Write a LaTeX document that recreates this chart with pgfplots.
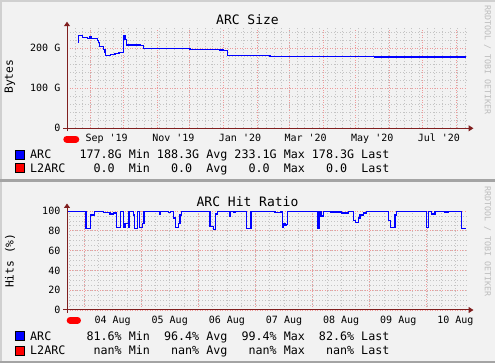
\documentclass[border=0pt]{standalone}
\usepackage{fontspec}
\setmainfont{DejaVu Sans Mono}
\usepackage{pgfplots}
\pgfplotsset{compat=1.18}
\usetikzlibrary{arrows.meta}
\definecolor{bgc}{HTML}{F2F2F2}
\definecolor{shadea}{HTML}{D0D0D0}
\definecolor{shadeb}{HTML}{A4A4A4}
\definecolor{mgrid}{HTML}{EE9A9A}
\definecolor{mingrid}{HTML}{C4C4C4}
\definecolor{arrowc}{HTML}{801F1F}
\definecolor{arcblue}{HTML}{0000FF}
\definecolor{l2red}{HTML}{FF0000}
\definecolor{wm}{HTML}{BDBDBD}
\newcommand\tickfont{\fontsize{10}{12}\selectfont}
\newcommand\legfont{\fontsize{11.7}{14}\selectfont}
\newcommand\titlefont{\fontsize{13}{15}\selectfont}
\newcommand\labfont{\fontsize{11.3}{13}\selectfont}
\newcommand\wmfont{\fontsize{8.3}{10}\selectfont}
\pgfplotsset{rrd/.style={
  axis on top=false,
  scale only axis, width=400pt, anchor=south west, clip=false,
  axis line style={draw=none},
  tick pos=left, major tick length=0pt, minor tick length=0pt,
  grid=both,
  major grid style={color=mgrid, line width=0.8pt, dash pattern=on 1pt off 1.5pt},
  minor grid style={color=mingrid, line width=0.7pt, dash pattern=on 1pt off 2pt},
  xticklabels={},
  ticklabel style={font=\tickfont, inner sep=0pt},
  yticklabel style={anchor=east, xshift=-6.5pt},
  xticklabel style={anchor=north, yshift=-5.5pt},
  extra x tick style={grid=none, major tick length=0pt},
}}
\begin{document}
\begin{tikzpicture}
\useasboundingbox (0,0) rectangle (495pt,363pt);
\fill[bgc] (0,0) rectangle (495pt,363pt);
\fill[shadea] (0,361pt) rectangle (495pt,363pt);
\fill[shadea] (0,0) rectangle (2pt,363pt);
\fill[shadeb] (0,180.5pt) rectangle (495pt,183.5pt);
\fill[shadeb] (0,0) rectangle (495pt,1.5pt);

% ---------- top: ARC Size ----------
\begin{axis}[rrd, at={(67pt,234.7pt)}, height=100pt,
  xmin=0.68, xmax=366.68, ymin=0, ymax=250,
  xtick={22,52,83,113,144,175,204,235,265,296,326,357},
  minor xtick={1,8,...,365},
  extra x ticks={37,98,159,219,280,341},
  extra x tick labels={Sep \textquotesingle19,Nov \textquotesingle19,Jan \textquotesingle20,Mar \textquotesingle20,May \textquotesingle20,Jul \textquotesingle20},
  ytick={0,100,200}, yticklabels={0,100 G,200 G},
  minor ytick={20,40,60,80,120,140,160,180,220,240},
]
\addplot[arcblue, line width=1.2pt, const plot] coordinates {
(10.5,215) (11.0,232) (14.7,227) (19.3,225) (21.7,230) (22.6,225) (28.4,219)
(29.3,214) (30.2,204) (33.9,197) (35.4,190) (36.1,181) (40.7,184) (44.6,187)
(48.3,190) (52.2,232) (53.8,221) (55.3,208) (67.5,206) (70.5,199) (113.2,197.5)
(140.7,195) (142.5,197) (143.5,195) (147.7,182.5) (186.4,180) (282.5,178) (365.5,178)};
\addplot[l2red, line width=7pt, line cap=round] coordinates {(0.5,-27.2) (8.7,-27.2)};
\draw[arrowc, line width=1pt, -{Triangle[length=5pt,width=6pt]}]
  ([xshift=-4pt]rel axis cs:0,0) -- ([xshift=6.5pt]rel axis cs:1,0);
\draw[arrowc, line width=1pt, -{Triangle[length=4.5pt,width=6pt]}]
  ([yshift=-3pt]rel axis cs:0,0) -- ([yshift=6.6pt]rel axis cs:0,1);
\end{axis}

% ---------- bottom: ARC Hit Ratio ----------
\begin{axis}[rrd, at={(67pt,53pt)}, height=99pt,
  xmin=0.7025, xmax=7.7025, ymin=0, ymax=100,
  xtick={1,2,3,4,5,6,7},
  minor xtick={0.75,1,...,7.5},
  extra x ticks={1.5,2.5,3.5,4.5,5.5,6.5,7.5},
  extra x tick labels={04 Aug,05 Aug,06 Aug,07 Aug,08 Aug,09 Aug,10 Aug},
  ytick={0,20,40,60,80,100}, yticklabels={0,20,40,60,80,100},
  minor ytick={5,10,...,95},
]
\addplot[arcblue, line width=1.2pt, const plot] coordinates {
(0.7025,99.5) (1.035,82) (1.117,96) (1.181,99.5) (1.338,98.5) (1.455,97) (1.513,98)
(1.572,83) (1.642,99.5) (1.689,83) (1.718,87.5) (1.776,83) (1.788,99.5) (1.864,96)
(1.881,82) (1.934,99.5) (1.969,83) (2.021,87) (2.050,99.5) (2.319,97) (2.342,99.5)
(2.476,98.5) (2.517,99.5) (2.564,93) (2.605,83) (2.651,87) (2.680,96) (2.710,99.5)
(3.205,84) (3.264,81.6) (3.305,97) (3.334,99.5) (3.544,95) (3.567,99.5) (3.614,98.5)
(3.643,99.5) (3.847,82) (3.923,99.5) (4.343,98.5) (4.448,99.5) (4.471,83) (4.489,87.5)
(4.518,85.5) (4.547,86) (4.565,99.5) (5.090,82) (5.113,99.5) (5.148,95) (5.189,99.5)
(5.323,99) (5.510,98) (5.627,99.5) (5.714,90) (5.755,88) (5.802,93) (5.831,96)
(5.889,98) (5.948,99.5) (6.327,90) (6.368,83) (6.444,96) (6.473,99.5) (6.998,83)
(7.027,99.5) (7.085,97) (7.144,99.5) (7.319,99) (7.377,99.5) (7.610,82.6) (7.680,82.6)};
\addplot[l2red, line width=7pt, line cap=round] coordinates {(0.758,-10.4) (0.886,-10.4)};
\draw[arrowc, line width=1pt, -{Triangle[length=5pt,width=6pt]}]
  ([xshift=-4pt]rel axis cs:0,0) -- ([xshift=6.5pt]rel axis cs:1,0);
\draw[arrowc, line width=1pt, -{Triangle[length=4.5pt,width=6pt]}]
  ([yshift=-3pt]rel axis cs:0,0) -- ([yshift=7.5pt]rel axis cs:0,1);
\end{axis}

% titles, labels, watermark
\node[font=\titlefont, inner sep=0pt] at (247.5pt,343pt) {ARC Size};
\node[font=\titlefont, inner sep=0pt] at (247.5pt,161.3pt) {ARC Hit Ratio};
\node[font=\labfont, inner sep=0pt, rotate=90] at (10pt,286.3pt) {Bytes};
\node[font=\labfont, inner sep=0pt, rotate=90] at (10pt,102.3pt) {Hits (\%)};
\node[font=\wmfont, text=wm, inner sep=0pt, rotate=-90] at (487.5pt,303pt) {RRDTOOL / TOBI OETIKER};
\node[font=\wmfont, text=wm, inner sep=0pt, rotate=-90] at (487.5pt,121.3pt) {RRDTOOL / TOBI OETIKER};

% legends
\filldraw[fill=arcblue, draw=black, line width=0.8pt] (15pt,204pt) rectangle (24pt,213pt);
\filldraw[fill=l2red, draw=black, line width=0.8pt] (15pt,190.7pt) rectangle (24pt,199.7pt);
\node[font=\legfont, inner sep=0pt, anchor=base west] at (30pt,204.2pt) {ARC~~~~177.8G~Min~188.3G~Avg~233.1G~Max~178.3G~Last};
\node[font=\legfont, inner sep=0pt, anchor=base west] at (30pt,190.9pt) {L2ARC~~~~0.0~~Min~~~0.0~~Avg~~~0.0~~Max~~~0.0~~Last};
\filldraw[fill=arcblue, draw=black, line width=0.8pt] (15pt,22.3pt) rectangle (24pt,31.3pt);
\filldraw[fill=l2red, draw=black, line width=0.8pt] (15pt,8pt) rectangle (24pt,17pt);
\node[font=\legfont, inner sep=0pt, anchor=base west] at (30pt,22.5pt) {ARC~~~~~81.6\%~Min~~96.4\%~Avg~~99.4\%~Max~~82.6\%~Last};
\node[font=\legfont, inner sep=0pt, anchor=base west] at (30pt,8.2pt) {L2ARC~~~~nan\%~Min~~~nan\%~Avg~~~nan\%~Max~~~nan\%~Last};
\end{tikzpicture}
\end{document}
